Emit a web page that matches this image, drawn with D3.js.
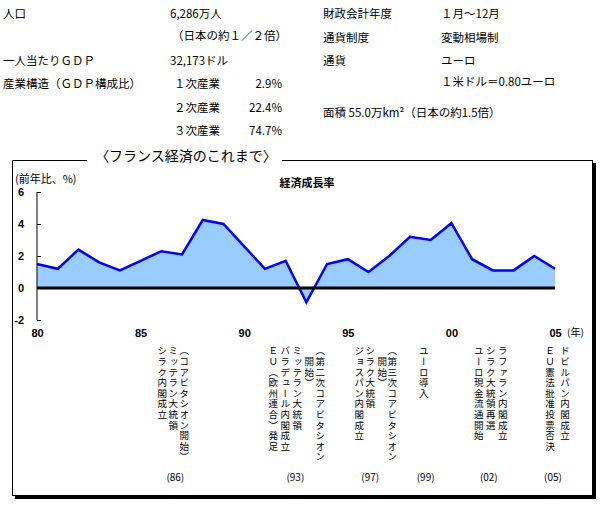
<!DOCTYPE html>
<html>
<head>
    <meta charset="utf-8">
    <style>
        body { margin: 0; background: #fff; }
        svg { display: block; }
        text { font-family: "Noto Sans CJK JP", "Liberation Sans", sans-serif; fill: #000; }
        .info { font-size: 11.5px; }
        .axis text { font-family: "Liberation Sans", Arial, sans-serif; font-weight: bold; font-size: 11px; }
        .vert { font-size: 9.5px; letter-spacing: 1.1px; writing-mode: vertical-rl; }
    </style>
</head>
<body>
<svg width="600" height="505"></svg>
<script src="https://d3js.org/d3.v7.min.js"></script>
<script>
    // country profile (text block at top)
    let infoLeftLabels = ["人口", "一人当たりＧＤＰ", "産業構造（ＧＤＰ構成比）"]
    let infoLeftValues = ["6,286万人", "（日本の約１／２倍）", "32,173ドル"]
    let sectorNames = ["１次産業", "２次産業", "３次産業"]
    let sectorShares = ["2.9%", "22.4%", "74.7%"]
    let infoRightLabels = ["財政会計年度", "通貨制度", "通貨"]
    let infoRightValues = ["１月～12月", "変動相場制", "ユーロ", "１米ドル＝0.80ユーロ"]
    let areaNote = "面積 55.0万km²（日本の約1.5倍）"

    // growth chart
    let years = [1980, 1981, 1982, 1983, 1984, 1985, 1986, 1987, 1988, 1989, 1990, 1991, 1992,
                 1993, 1994, 1995, 1996, 1997, 1998, 1999, 2000, 2001, 2002, 2003, 2004, 2005]
    let growth = [1.5, 1.2, 2.4, 1.6, 1.1, 1.7, 2.3, 2.1, 4.25, 4.0, 2.6, 1.2, 1.7,
                  -0.9, 1.5, 1.8, 1.0, 2.0, 3.2, 3.0, 4.05, 1.8, 1.1, 1.1, 2.0, 1.2]
    let yTicks = [-2, 0, 2, 4, 6]
    let xTickYears = [1980, 1985, 1990, 1995, 2000, 2005]
    let xTickLabels = ["80", "85", "90", "95", "00", "05"]

    // events under the chart (columns read right to left)
    let eventYears = [1986, 1993, 1997, 1999, 2002, 2005]
    let eventLabels = ["(86)", "(93)", "(97)", "(99)", "(02)", "(05)"]
    let eventTexts = [
        ["（コアビタシオン開始）", "ミッテラン大統領", "シラク内閣成立"],
        ["（第二次コアビタシオン", "\u3000開始）", "ミッテラン大統領", "バラデュール内閣成立", "ＥＵ（欧州連合）発足"],
        ["（第三次コアビタシオン", "\u3000開始）", "シラク大統領", "ジョスパン内閣成立"],
        ["ユーロ導入"],
        ["ラファラン内閣成立", "シラク大統領再選", "ユーロ現金流通開始"],
        ["ドビルパン内閣成立", "ＥＵ憲法批准投票否決"]
    ]

    // layout
    let svg = d3.select("svg")
    let x = d3.scaleLinear().domain([1980, 2005]).range([37, 555])
    let y = d3.scaleLinear().domain([-2, 6]).range([320, 192])
    let labelShift = [14, -11, -19, -5, -4, -2]     // label centre vs year position
    let colOffsets = [                               // column x relative to label centre
        [9, -2, -13],
        [25, 14, 2, -10, -22],
        [22, 12, 0, -11],
        [-2],
        [14, 2, -10],
        [12, -3]
    ]

    // frame with shadow
    svg.append("rect").attr("x", 15).attr("y", 163).attr("width", 581).attr("height", 336).attr("fill", "#000")
    svg.append("rect").attr("x", 12).attr("y", 160).attr("width", 581).attr("height", 336).attr("fill", "#fff")
    let frame = svg.append("g").attr("stroke", "#000").attr("stroke-width", 1)
    frame.append("line").attr("x1", 12.5).attr("y1", 160.5).attr("x2", 12.5).attr("y2", 496)
    frame.append("line").attr("x1", 12.5).attr("y1", 160.5).attr("x2", 87).attr("y2", 160.5)
    frame.append("line").attr("x1", 282).attr("y1", 160.5).attr("x2", 593).attr("y2", 160.5)
    frame.append("line").attr("x1", 592.5).attr("y1", 160.5).attr("x2", 592.5).attr("y2", 496)
    frame.append("line").attr("x1", 12.5).attr("y1", 495.5).attr("x2", 593).attr("y2", 495.5)

    svg.append("text").attr("x", 186).attr("y", 161).attr("text-anchor", "middle")
        .style("font-size", "14px").text("〈フランス経済のこれまで〉")

    // info block
    let info = svg.append("g").attr("class", "info")
    let leftRows = [18, 65, 88]
    infoLeftLabels.forEach((t, i) => info.append("text").attr("x", 3).attr("y", leftRows[i]).text(t))
    info.append("text").attr("x", 170).attr("y", 18).text(infoLeftValues[0])
    info.append("text").attr("x", 172).attr("y", 40).text(infoLeftValues[1])
    info.append("text").attr("x", 170).attr("y", 65).text(infoLeftValues[2])
    let sectorRows = [88, 112, 135]
    sectorNames.forEach((t, i) => {
        info.append("text").attr("x", 174).attr("y", sectorRows[i]).text(t)
        info.append("text").attr("x", 282).attr("y", sectorRows[i]).attr("text-anchor", "end").text(sectorShares[i])
    })
    let rightRows = [18, 42, 65]
    infoRightLabels.forEach((t, i) => info.append("text").attr("x", 323).attr("y", rightRows[i]).text(t))
    let rightValRows = [18, 42, 65, 86]
    infoRightValues.forEach((t, i) => info.append("text").attr("x", 441).attr("y", rightValRows[i]).text(t))
    info.append("text").attr("x", 323).attr("y", 117).text(areaNote)

    // chart titles
    svg.append("text").attr("x", 15).attr("y", 183).style("font-size", "11px").text("(前年比、%)")
    svg.append("text").attr("x", 307).attr("y", 187).attr("text-anchor", "middle")
        .style("font-size", "11px").style("font-weight", "bold").text("経済成長率")

    // area + line
    let pts = years.map((yr, i) => [yr, growth[i]])
    let area = d3.area().x(d => x(d[0])).y0(y(0)).y1(d => y(d[1]))
    let line = d3.line().x(d => x(d[0])).y(d => y(d[1]))
    svg.append("path").datum(pts).attr("d", area).attr("fill", "#99ccff")
    svg.append("path").datum(pts).attr("d", line).attr("fill", "none")
        .attr("stroke", "#0000ff").attr("stroke-width", 2.5).attr("stroke-linejoin", "miter")
    svg.append("line").attr("x1", x(1980)).attr("x2", x(2005)).attr("y1", y(0)).attr("y2", y(0))
        .attr("stroke", "#000").attr("stroke-width", 3)

    // y axis with inward ticks
    let yAxis = d3.axisLeft(y).tickValues(yTicks).tickSize(-4).tickPadding(13).tickFormat(d => String(d))
    svg.append("g").attr("class", "axis").attr("transform", `translate(${x(1980)},0)`).call(yAxis)
        .call(g => g.select(".domain").attr("d", `M0,${y(6)}V${y(-2)}`))

    // x axis labels only
    let xAxis = d3.axisBottom(x).tickValues(xTickYears).tickSize(0).tickPadding(9)
        .tickFormat((d, i) => xTickLabels[i])
    svg.append("g").attr("class", "axis").attr("transform", `translate(0,${y(-2)})`).call(xAxis)
        .call(g => g.select(".domain").remove())
    svg.append("text").attr("x", 567).attr("y", 336).style("font-size", "10px").text("(年)")

    // events
    eventYears.forEach((yr, i) => {
        let cx = x(yr) + labelShift[i]
        eventTexts[i].forEach((t, j) => {
            svg.append("text").attr("class", "vert")
                .attr("x", cx + colOffsets[i][j]).attr("y", 346)
                .text(t)
        })
        svg.append("text").attr("x", cx).attr("y", 481).attr("text-anchor", "middle")
            .style("font-size", "10px").text(eventLabels[i])
    })
</script>
</body>
</html>
